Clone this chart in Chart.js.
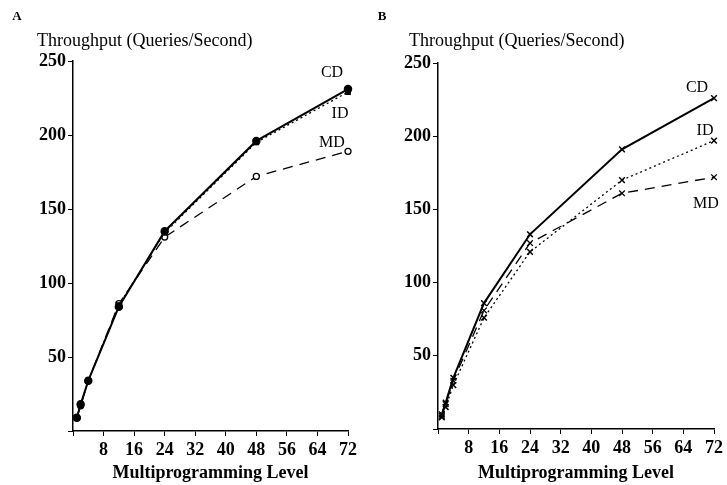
<!DOCTYPE html>
<html>
<head>
<meta charset="utf-8">
<script src="https://cdn.jsdelivr.net/npm/chart.js@4/dist/chart.umd.min.js"></script>
<style>
  body { margin: 0; background: #fff; }
  .panel { position: absolute; top: 0; height: 485px; }
</style>
</head>
<body>
<div class="panel" style="left:0;width:363px"><canvas id="chartA" width="363" height="485"></canvas></div>
<div class="panel" style="left:363px;width:364px"><canvas id="chartB" width="364" height="485"></canvas></div>
<script>
// multiprogramming levels measured
const levels = [1, 2, 4, 12, 24, 48, 72];

// panel A
const cdA = [9, 18, 34, 84, 135, 196, 231];
const idA = [9, 18, 34, 85, 134, 195, 229];
const mdA = [9, 17, 34, 86, 131, 172, 189];

// panel B
const cdB = [10, 18, 35, 86, 133, 191, 226];
const idB = [8, 15, 30, 76, 121, 170, 197];
const mdB = [9, 17, 33, 81, 127, 161, 172];

const serif = "'Liberation Serif', 'DejaVu Serif', serif";

function toPoints(values) {
  return levels.map((x, i) => ({ x: x, y: values[i] }));
}

// draws the panel letter, the y caption and the CD / ID / MD tags next to the line ends
const tagPlugin = {
  id: 'tags',
  afterDraw(chart, args, opts) {
    const ctx = chart.ctx;
    ctx.save();
    ctx.fillStyle = '#000';
    ctx.textBaseline = 'middle';
    ctx.textAlign = 'center';
    ctx.font = 'bold 13px ' + serif;
    ctx.fillText(opts.letter, opts.letterX, 17);
    ctx.textAlign = 'left';
    ctx.font = '18px ' + serif;
    ctx.fillText('Throughput (Queries/Second)', opts.captionX, 41);
    ctx.textAlign = 'center';
    ctx.font = '16px ' + serif;
    opts.items.forEach(item => {
      const pts = chart.getDatasetMeta(item.dataset).data;
      const last = pts[pts.length - 1];
      ctx.fillText(item.text, last.x + item.dx, last.y + item.dy);
    });
    ctx.restore();
  }
};

function makePanel(id, cd, idv, md, cfg) {
  const datasets = [
    {
      label: 'CD', data: toPoints(cd), borderColor: '#000', borderWidth: 2,
      pointStyle: cfg.markers[0], pointRadius: cfg.radius[0], pointBackgroundColor: '#000',
      pointBorderColor: '#000', pointBorderWidth: 1.5
    },
    {
      label: 'ID', data: toPoints(idv), borderColor: '#000', borderWidth: 1.3, borderDash: [2, 3],
      pointStyle: cfg.markers[1], pointRadius: cfg.radius[1], pointBackgroundColor: '#000',
      pointBorderColor: '#000', pointBorderWidth: 1.5
    },
    {
      label: 'MD', data: toPoints(md), borderColor: '#000', borderWidth: 1.3, borderDash: [10, 7],
      pointStyle: cfg.markers[2], pointRadius: cfg.radius[2], pointBackgroundColor: cfg.mdFill,
      pointBorderColor: '#000', pointBorderWidth: 1.3
    }
  ];
  datasets.forEach(d => { d.tension = 0; d.clip = false; d.fill = false; });

  return new Chart(document.getElementById(id), {
    type: 'line',
    data: { datasets: datasets },
    plugins: [tagPlugin],
    options: {
      responsive: false,
      animation: false,
      layout: { padding: { left: cfg.padLeft, right: cfg.padRight, top: cfg.padTop, bottom: 0 } },
      plugins: {
        legend: { display: false },
        tooltip: { enabled: false },
        title: { display: false },
        tags: { letter: cfg.letter, letterX: cfg.letterX, captionX: cfg.captionX, items: cfg.tags }
      },
      scales: {
        x: {
          type: 'linear', min: 0, max: 72,
          border: { display: true, color: '#000', width: 1.5 },
          grid: { drawOnChartArea: false, drawTicks: true, tickLength: 5, color: '#000' },
          ticks: {
            stepSize: 8, color: '#000', padding: 4, maxRotation: 0,
            font: { family: serif, size: 18, weight: 'bold' },
            callback: v => (v === 0 ? '' : v)
          },
          title: {
            display: true, text: 'Multiprogramming Level', color: '#000',
            font: { family: serif, size: 18, weight: 'bold' },
            padding: { top: 0, bottom: 1 }
          },
          afterFit: s => { s.height = cfg.xHeight; }
        },
        y: {
          type: 'linear', min: 0, max: 250,
          border: { display: true, color: '#000', width: 1.5 },
          grid: { drawOnChartArea: false, drawTicks: true, tickLength: 5, color: '#000' },
          ticks: {
            stepSize: 50, color: '#000', padding: 2,
            font: { family: serif, size: 18, weight: 'bold' },
            callback: v => (v === 0 ? '' : v)
          },
          afterFit: s => { s.width = cfg.yWidth; }
        }
      }
    }
  });
}

makePanel('chartA', cdA, idA, mdA, {
  letter: 'A', letterX: 17, captionX: 37,
  padLeft: 37, padRight: 15, padTop: 61, yWidth: 36, xHeight: 54,
  markers: ['circle', 'rect', 'circle'], radius: [3.5, 3, 3], mdFill: '#fff',
  tags: [
    { text: 'CD', dataset: 0, dx: -16, dy: -16 },
    { text: 'ID', dataset: 1, dx: -8, dy: 22 },
    { text: 'MD', dataset: 2, dx: -16, dy: -8 }
  ]
});

makePanel('chartB', cdB, idB, mdB, {
  letter: 'B', letterX: 19, captionX: 46,
  padLeft: 39, padRight: 13, padTop: 63, yWidth: 36, xHeight: 56,
  markers: ['crossRot', 'crossRot', 'crossRot'], radius: [4, 4, 4], mdFill: '#000',
  tags: [
    { text: 'CD', dataset: 0, dx: -17, dy: -10 },
    { text: 'ID', dataset: 1, dx: -9, dy: -10 },
    { text: 'MD', dataset: 2, dx: -8, dy: 27 }
  ]
});
</script>
</body>
</html>
